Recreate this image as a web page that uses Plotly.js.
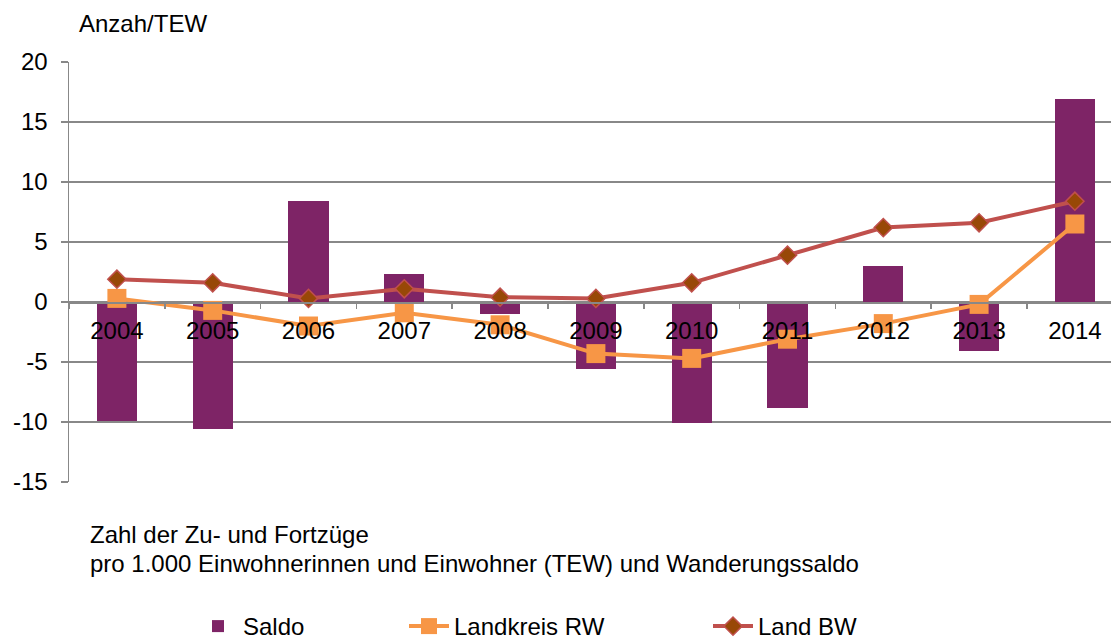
<!DOCTYPE html>
<html>
<head>
<meta charset="utf-8">
<script src="https://cdn.plot.ly/plotly-3.0.1.min.js"></script>
<style>html,body{margin:0;padding:0;background:#fff;}#chart{width:1111px;height:644px;}</style>
</head>
<body>
<div id="chart"></div>
<script>
var years = ["2004","2005","2006","2007","2008","2009","2010","2011","2012","2013","2014"];
var saldo = [-9.9, -10.6, 8.4, 2.3, -1.0, -5.6, -10.1, -8.8, 3.0, -4.1, 16.9];
var landkreisRW = [0.3, -0.7, -2.0, -0.9, -1.9, -4.3, -4.7, -3.1, -1.8, -0.2, 6.5];
var landBW = [1.9, 1.6, 0.3, 1.1, 0.4, 0.3, 1.6, 3.9, 6.2, 6.6, 8.4];
var yTicks = [-15, -10, -5, 0, 5, 10, 15, 20];

var FONT = "Liberation Sans, Arial, sans-serif";
var GRID = "#888888";

var traces = [
  {type:"bar", name:"Saldo", x:years, y:saldo, width:0.42,
   marker:{color:"#7E2466"}, legend:"legend"},
  {type:"scatter", mode:"lines+markers", name:"Landkreis RW", x:years, y:landkreisRW,
   line:{color:"#F79646", width:4},
   marker:{symbol:"square", size:19, color:"#F79646"}, legend:"legend2"},
  {type:"scatter", mode:"lines+markers", name:"Land BW", x:years, y:landBW,
   line:{color:"#C0504D", width:4},
   marker:{symbol:"diamond", size:14, color:"#984807", line:{color:"#C0504D", width:1.5}}, legend:"legend3"}
];

function leg(px){
  return {xref:"container", yref:"container", x:px/1111, y:1-604/644, yanchor:"top", xanchor:"left",
          orientation:"h", font:{family:FONT, size:24, color:"#000"}, bgcolor:"rgba(0,0,0,0)",
          borderwidth:0, itemwidth:40, tracegroupgap:0};
}

var layout = {
  width:1111, height:644,
  margin:{l:69, r:0, t:62, b:162, pad:0},
  paper_bgcolor:"#fff", plot_bgcolor:"#fff",
  font:{family:FONT, size:24, color:"#000"},
  bargap:0,
  xaxis:{type:"category", range:[-0.5, 10.377], anchor:"free", position:180/420,
         showline:true, linecolor:GRID, linewidth:1.5, showgrid:false, zeroline:false,
         ticks:"outside", tickson:"boundaries", ticklen:5, tickcolor:GRID, tickwidth:1.5,
         tickfont:{family:FONT, size:24, color:"#000"}, ticklabelstandoff:7},
  yaxis:{range:[-15, 20], tickvals:yTicks, ticktext:yTicks.map(String),
         showline:true, linecolor:GRID, linewidth:1.5,
         showgrid:true, gridcolor:GRID, gridwidth:1.5, zeroline:false,
         ticks:"outside", ticklen:7, tickcolor:GRID, tickwidth:1.5,
         tickfont:{family:FONT, size:24, color:"#000"}, ticklabelstandoff:8},
  showlegend:true,
  legend:leg(193),
  legend2:leg(404),
  legend3:leg(708),
  annotations:[
    {xref:"paper", yref:"paper", x:(77-69)/1042, y:(482.3-24)/420, xanchor:"left", yanchor:"middle",
     text:"Anzah/TEW", showarrow:false, font:{family:FONT, size:24, color:"#000"}},
    {xref:"paper", yref:"paper", x:(88-69)/1042, y:(482.3-535)/420, xanchor:"left", yanchor:"middle", align:"left",
     text:"Zahl der Zu- und Fortzüge",
     showarrow:false, font:{family:FONT, size:24, color:"#000"}},
    {xref:"paper", yref:"paper", x:(88-69)/1042, y:(482.3-564)/420, xanchor:"left", yanchor:"middle", align:"left",
     text:"pro 1.000 Einwohnerinnen und Einwohner (TEW) und Wanderungssaldo",
     showarrow:false, font:{family:FONT, size:24, color:"#000"}}
  ]
};

Plotly.newPlot("chart", traces, layout, {displayModeBar:false, staticPlot:true});
</script>
</body>
</html>
